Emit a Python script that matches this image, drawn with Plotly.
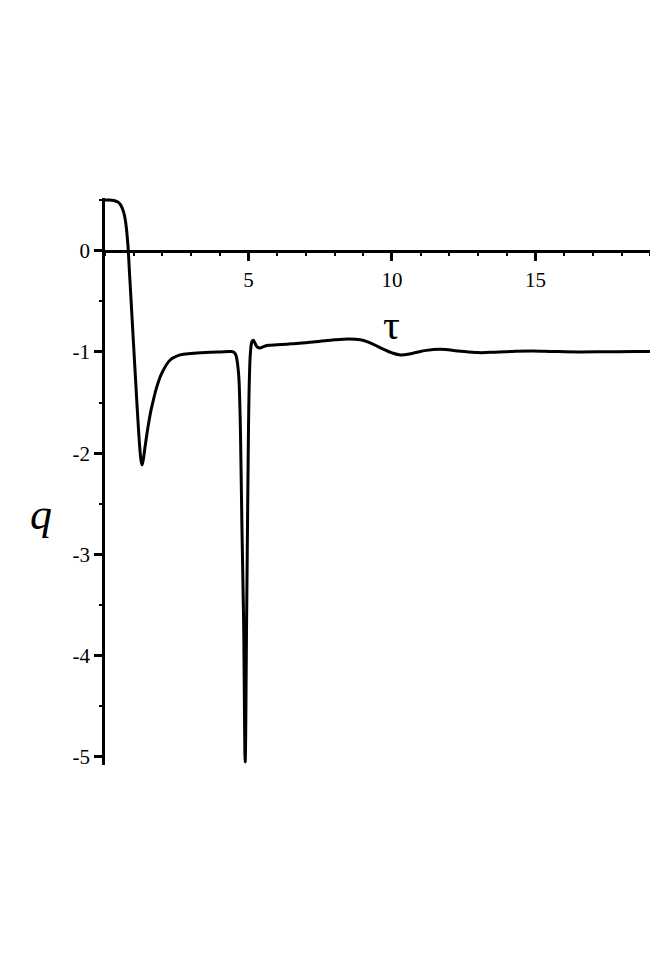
import plotly.graph_objects as go

tau = [0, 0.15, 0.3, 0.45, 0.55, 0.65, 0.72, 0.8, 0.85, 0.9, 1.0, 1.1, 1.2, 1.25, 1.29, 1.33,
       1.4, 1.5, 1.6, 1.69, 1.8, 1.98, 2.27, 2.62, 3.0, 3.5, 4.0, 4.4, 4.5, 4.56, 4.6, 4.64,
       4.67, 4.72, 4.77, 4.83, 4.885, 4.935, 4.97, 5.0, 5.03, 5.07, 5.12, 5.17, 5.22, 5.3,
       5.4, 5.5, 5.7, 6.0, 6.5, 7.0, 7.5, 8.0, 8.5, 8.9, 9.2, 9.6, 10.0, 10.3, 10.7, 11.2,
       11.7, 12.3, 13.0, 13.6, 14.3, 14.9, 15.6, 16.5, 17.5, 18.5, 19.6]
q = [0.5, 0.5, 0.495, 0.48, 0.45, 0.38, 0.28, 0.05, -0.2, -0.45, -0.95, -1.45, -1.9, -2.06, -2.115, -2.07,
     -1.93, -1.74, -1.58, -1.47, -1.35, -1.21, -1.08, -1.03, -1.015, -1.005, -1.0, -0.997, -1.005, -1.03, -1.08, -1.17,
     -1.28, -1.77, -2.7, -3.65, -5.05, -3.65, -2.6, -1.77, -1.28, -1.0, -0.9, -0.886, -0.91, -0.95,
     -0.962, -0.95, -0.935, -0.93, -0.92, -0.91, -0.895, -0.88, -0.872, -0.88, -0.905, -0.96, -1.01, -1.03, -1.015, -0.985,
     -0.975, -0.99, -1.007, -1.003, -0.993, -0.99, -0.995, -1.0, -0.998, -0.997, -0.997]

x_tickvals = [5, 10, 15]
x_ticktext = ["5", "10", "15"]
y_tickvals = [0, -1, -2, -3, -4, -5]
y_ticktext = ["0", "-1", "-2", "-3", "-4", "-5"]

YMIN, YMAX = -5.08, 0.52
XMIN, XMAX = 0, 19.55

fig = go.Figure()
fig.add_trace(go.Scatter(x=tau, y=q, mode="lines",
                         line=dict(color="black", width=3, shape="spline", smoothing=1.0),
                         showlegend=False, hoverinfo="skip"))

tickfont = dict(family="Liberation Serif, Times New Roman, serif", size=21, color="black")

fig.update_layout(
    width=658, height=920,
    margin=dict(l=97, r=0, t=190, b=163),
    plot_bgcolor="white", paper_bgcolor="white",
    xaxis=dict(range=[XMIN, XMAX], showgrid=False, zeroline=False,
               showline=True, linecolor="black", linewidth=2.5,
               anchor="free", position=(0 - YMIN) / (YMAX - YMIN),
               tickmode="array", tickvals=x_tickvals, ticktext=x_ticktext,
               ticks="outside", ticklen=9, tickwidth=2.5, tickcolor="black",
               tickfont=tickfont,
               minor=dict(tickmode="linear", tick0=0, dtick=1, ticks="outside",
                          ticklen=4, tickwidth=2, tickcolor="black", showgrid=False)),
    yaxis=dict(range=[YMIN, YMAX], showgrid=False, zeroline=False,
               showline=True, linecolor="black", linewidth=2.5,
               tickmode="array", tickvals=y_tickvals, ticktext=y_ticktext,
               ticks="outside", ticklen=8, tickwidth=2.5, tickcolor="black",
               tickfont=tickfont,
               minor=dict(tickmode="linear", tick0=0, dtick=0.5, ticks="outside",
                          ticklen=3, tickwidth=2, tickcolor="black", showgrid=False)),
    annotations=[
        dict(text="τ", xref="x", yref="paper", x=10.0, y=(765.3 - 325) / 567,
             showarrow=False, xanchor="center", yanchor="middle",
             font=dict(family="Liberation Serif, Times New Roman, serif", size=42, color="black")),
        dict(text="<i>q</i>", xref="paper", yref="paper", x=-64 / 561, y=(765.3 - 515) / 567,
             showarrow=False, xanchor="center", yanchor="middle",
             font=dict(family="Liberation Serif, Times New Roman, serif", size=44, color="black")),
    ],
)

fig.write_html("out.html")
